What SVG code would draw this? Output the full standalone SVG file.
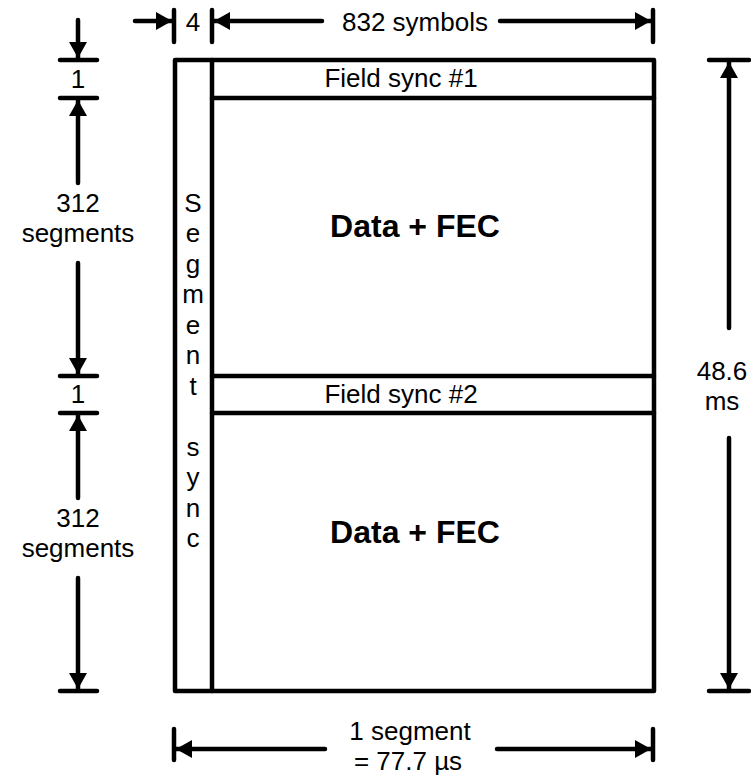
<svg xmlns="http://www.w3.org/2000/svg" width="751" height="776" viewBox="0 0 751 776">
<style>
  .ln{stroke:#000;stroke-width:4.5;fill:none;stroke-linecap:round;stroke-linejoin:round}
  .t{font-family:"Liberation Sans",Arial,sans-serif;font-size:26px;fill:#000;text-anchor:middle}
  .b{font-family:"Liberation Sans",Arial,sans-serif;font-size:32px;font-weight:bold;fill:#000;text-anchor:middle}
</style>
<defs>
  <marker id="ah" viewBox="0 0 16 18" refX="16" refY="9" markerWidth="16" markerHeight="18" markerUnits="userSpaceOnUse" orient="auto">
    <path d="M0,0 L16,9 L0,18 Z" fill="#000"/>
  </marker>
</defs>
<rect width="751" height="776" fill="#fff"/>
<g id="frame">
  <rect class="ln" x="175" y="60" width="479" height="631"/>
  <line class="ln" x1="212" y1="60" x2="212" y2="691"/>
</g>
<g id="field-sync-1">
  <line class="ln" x1="212" y1="98" x2="654" y2="98"/>
  <text class="t" x="401" y="87">Field sync #1</text>
</g>
<g id="data-1">
  <text class="b" x="415" y="237">Data + FEC</text>
</g>
<g id="field-sync-2">
  <line class="ln" x1="212" y1="376" x2="654" y2="376"/>
  <line class="ln" x1="212" y1="413" x2="654" y2="413"/>
  <text class="t" x="401" y="403">Field sync #2</text>
</g>
<g id="data-2">
  <text class="b" x="415" y="543">Data + FEC</text>
</g>
<g id="segment-sync">
  <text class="t" x="193" y="212">S</text>
  <text class="t" x="193" y="242">e</text>
  <text class="t" x="193" y="273">g</text>
  <text class="t" x="193" y="303">m</text>
  <text class="t" x="193" y="334">e</text>
  <text class="t" x="193" y="364">n</text>
  <text class="t" x="193" y="395">t</text>
  <text class="t" x="193" y="456">s</text>
  <text class="t" x="193" y="486">y</text>
  <text class="t" x="193" y="517">n</text>
  <text class="t" x="193" y="547">c</text>
</g>
<g id="connectors">
  <line class="ln" x1="174" y1="10" x2="174" y2="42"/>
  <line class="ln" x1="212" y1="10" x2="212" y2="42"/>
  <line class="ln" x1="653" y1="10" x2="653" y2="42"/>
  <line class="ln" x1="135" y1="21" x2="172" y2="21" marker-end="url(#ah)"/>
  <line class="ln" x1="322" y1="21" x2="214" y2="21" marker-end="url(#ah)"/>
  <line class="ln" x1="500" y1="21" x2="651" y2="21" marker-end="url(#ah)"/>
  <line class="ln" x1="60" y1="60" x2="97" y2="60"/>
  <line class="ln" x1="60" y1="98" x2="97" y2="98"/>
  <line class="ln" x1="60" y1="376" x2="97" y2="376"/>
  <line class="ln" x1="60" y1="413" x2="97" y2="413"/>
  <line class="ln" x1="60" y1="691" x2="97" y2="691"/>
  <line class="ln" x1="78" y1="20" x2="78" y2="58" marker-end="url(#ah)"/>
  <line class="ln" x1="78" y1="183" x2="78" y2="100" marker-end="url(#ah)"/>
  <line class="ln" x1="78" y1="263" x2="78" y2="374" marker-end="url(#ah)"/>
  <line class="ln" x1="78" y1="498" x2="78" y2="415" marker-end="url(#ah)"/>
  <line class="ln" x1="78" y1="578" x2="78" y2="689" marker-end="url(#ah)"/>
  <line class="ln" x1="709" y1="60" x2="749" y2="60"/>
  <line class="ln" x1="709" y1="691" x2="749" y2="691"/>
  <line class="ln" x1="729" y1="328" x2="729" y2="62" marker-end="url(#ah)"/>
  <line class="ln" x1="729" y1="438" x2="729" y2="689" marker-end="url(#ah)"/>
  <line class="ln" x1="174" y1="729" x2="174" y2="760"/>
  <line class="ln" x1="653" y1="729" x2="653" y2="760"/>
  <line class="ln" x1="325" y1="749" x2="176" y2="749" marker-end="url(#ah)"/>
  <line class="ln" x1="497" y1="749" x2="651" y2="749" marker-end="url(#ah)"/>
</g>
<g id="labels">
  <text class="t" x="193" y="31">4</text>
  <text class="t" x="415" y="31">832 symbols</text>
  <text class="t" x="78" y="88">1</text>
  <text class="t" x="78" y="212">312</text>
  <text class="t" x="78" y="242">segments</text>
  <text class="t" x="78" y="403">1</text>
  <text class="t" x="78" y="527">312</text>
  <text class="t" x="78" y="557">segments</text>
  <text class="t" x="722" y="380">48.6</text>
  <text class="t" x="722" y="410">ms</text>
  <text class="t" x="410" y="740">1 segment</text>
  <text class="t" x="408" y="770">= 77.7 µs</text>
</g>
</svg>
